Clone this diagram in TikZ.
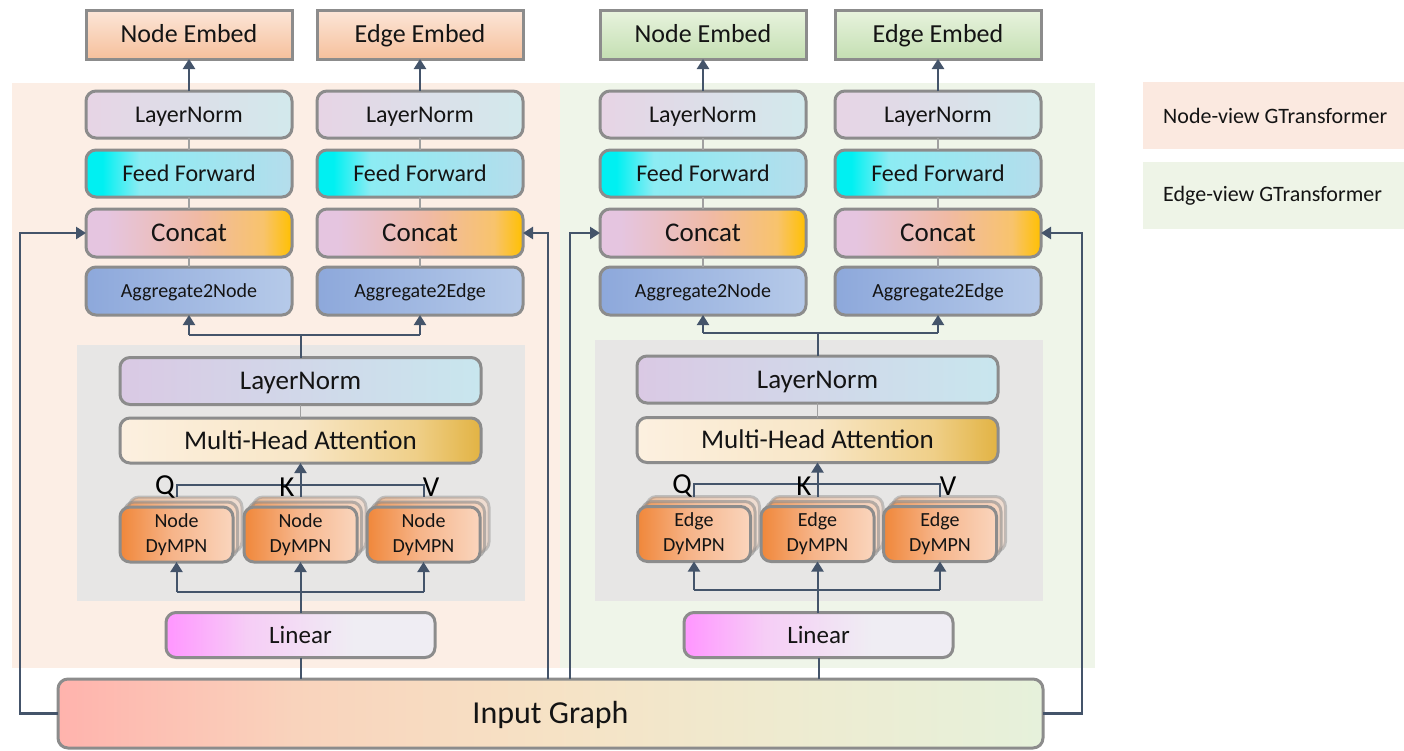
\documentclass[tikz,border=0pt]{standalone}
\usepackage{fontspec}
\setmainfont{Carlito}
\usetikzlibrary{arrows.meta,calc}
\definecolor{bordergray}{HTML}{8C8C8C}
\definecolor{conncol}{HTML}{44546A}
\definecolor{thingray}{HTML}{A0A0A0}
\definecolor{panelL}{HTML}{FCEEE5}
\definecolor{panelR}{HTML}{EFF5E9}
\definecolor{innergray}{HTML}{E7E6E5}
\definecolor{legL}{HTML}{FBE9E0}
\definecolor{legR}{HTML}{EEF4E7}
\definecolor{txt}{HTML}{141414}
\definecolor{ffA}{HTML}{00F0F2}
\definecolor{ffB}{HTML}{8CECF3}
\definecolor{ffC}{HTML}{B5DDEC}
\definecolor{ccA}{HTML}{E5C5E0}
\definecolor{ccB}{HTML}{F0BAA5}
\definecolor{ccC}{HTML}{F8C36C}
\definecolor{ccD}{HTML}{FFC000}
\definecolor{linA}{HTML}{FF99FF}
\definecolor{linB}{HTML}{F6CDF6}
\definecolor{linC}{HTML}{EFEDF3}
\definecolor{igA}{HTML}{FFB3AD}
\definecolor{igB}{HTML}{F9D3BC}
\definecolor{igC}{HTML}{F6E2C5}
\definecolor{igD}{HTML}{EEEBD0}
\definecolor{igE}{HTML}{E6F1DB}
\definecolor{mhA}{HTML}{FCF0E0}
\definecolor{mhB}{HTML}{F8E6C6}
\definecolor{mhC}{HTML}{EFCF88}
\definecolor{mhD}{HTML}{E2B343}
\definecolor{dyA}{HTML}{F0873A}
\definecolor{dyB}{HTML}{F6B489}
\definecolor{dyC}{HTML}{FAD5BD}
\pgfdeclarehorizontalshading{ffshade}{100bp}{color(0bp)=(ffA); color(29bp)=(ffA); color(38bp)=(ffB); color(75bp)=(ffC); color(100bp)=(ffC)}
\pgfdeclarehorizontalshading{ccshade}{100bp}{color(0bp)=(ccA); color(30bp)=(ccA); color(52bp)=(ccB); color(68bp)=(ccC); color(75bp)=(ccD); color(100bp)=(ccD)}
\pgfdeclarehorizontalshading{linshade}{100bp}{color(0bp)=(linA); color(26bp)=(linA); color(40bp)=(linB); color(60bp)=(linC); color(100bp)=(linC)}
\pgfdeclarehorizontalshading{igshade}{100bp}{color(0bp)=(igA); color(25bp)=(igA); color(37bp)=(igB); color(50bp)=(igC); color(62bp)=(igD); color(75bp)=(igE); color(100bp)=(igE)}
\pgfdeclarehorizontalshading{mhshade}{100bp}{color(0bp)=(mhA); color(25bp)=(mhA); color(50bp)=(mhB); color(66bp)=(mhC); color(75bp)=(mhD); color(100bp)=(mhD)}
\pgfdeclarehorizontalshading{dyshade}{100bp}{color(0bp)=(dyA); color(25bp)=(dyA); color(48bp)=(dyB); color(75bp)=(dyC); color(100bp)=(dyC)}
\newcommand\fsz[1]{\fontsize{#1}{#1}\selectfont}
\newcommand\dystack[4]{%
  \node[dybox,opacity=.45] (#1b2) at (#2+9,#3-10) {};
  \node[dybox,opacity=.6] (#1b1) at (#2+4.5,#3-5) {};
  \node[dybox] (#1) at (#2,#3) {#4\\DyMPN};
}
\tikzset{
  base/.style={draw=bordergray, line width=3pt, inner sep=0pt, outer sep=0pt, text=txt},
  rbox/.style={base, rounded corners=10pt},
  tx/.style 2 args={text height=#1, text depth=#2},
  embedO/.style={base, tx={22.4pt}{5.7pt}, top color={rgb,255:red,252;green,230;blue,216}, bottom color={rgb,255:red,246;green,192;blue,156}, minimum width=206pt, minimum height=49pt, font=\fsz{26}},
  embedG/.style={base, tx={22.4pt}{5.7pt}, top color={rgb,255:red,232;green,243;blue,222}, bottom color={rgb,255:red,196;green,223;blue,178}, minimum width=206pt, minimum height=49pt, font=\fsz{26}},
  lnS/.style={rbox, tx={20.6pt}{5.3pt}, left color={rgb,255:red,231;green,212;blue,229}, right color={rgb,255:red,210;green,233;blue,236}, minimum width=206pt, minimum height=47pt, font=\fsz{24}},
  ffbox/.style={rbox, tx={20.6pt}{5.3pt}, shade, shading=ffshade, minimum width=206pt, minimum height=47pt, font=\fsz{24}},
  ccbox/.style={rbox, tx={23.2pt}{5.9pt}, shade, shading=ccshade, minimum width=206pt, minimum height=48pt, font=\fsz{27}},
  aggbox/.style={rbox, tx={17.2pt}{4.4pt}, left color={rgb,255:red,141;green,168;blue,219}, right color={rgb,255:red,182;green,202;blue,233}, minimum width=206pt, minimum height=48pt, font=\fsz{20}},
  lnB/.style={rbox, tx={23.2pt}{5.9pt}, left color={rgb,255:red,218;green,201;blue,228}, right color={rgb,255:red,200;green,230;blue,238}, minimum width=361pt, minimum height=47pt, font=\fsz{27}},
  mhbox/.style={rbox, tx={23.2pt}{5.9pt}, shade, shading=mhshade, minimum width=361pt, minimum height=45pt, font=\fsz{27}},
  dybox/.style={rbox, shade, shading=dyshade, minimum width=113pt, minimum height=55pt, font=\fontsize{20}{25}\selectfont, align=center},
  linbox/.style={rbox, tx={21.5pt}{5.5pt}, shade, shading=linshade, minimum width=269pt, minimum height=45pt, font=\fsz{25}},
  igbox/.style={rbox, tx={27.5pt}{7pt}, shade, shading=igshade, minimum width=985pt, minimum height=69pt, font=\fsz{32}},
  qkv/.style={inner sep=0pt, text=black, font=\fsz{29}},
  legtext/.style={inner sep=0pt, anchor=west, text=txt, font=\fsz{22}},
  conn/.style={draw=conncol, line width=2.6pt},
  arr/.style={conn, -{Triangle[length=10pt,width=12pt]}},
  thinconn/.style={draw=conncol, line width=2pt},
  thinarr/.style={thinconn, -{Triangle[length=10pt,width=12pt]}},
  link/.style={draw=thingray, line width=1.6pt},
}
\begin{document}
\begin{tikzpicture}[x=1pt,y=-1pt]
\useasboundingbox (0,0) rectangle (1404,750);
% panels
\fill[panelL] (12,83) rectangle (560,668);
\fill[panelR] (560,83) rectangle (1095,668);
\fill[innergray] (77,345) rectangle (525,601);
\fill[innergray] (595,340) rectangle (1043,601);
% legend
\fill[legL] (1143,82) rectangle (1404,149);
\fill[legR] (1143,162) rectangle (1404,229);
\node[legtext] (legN) at (1163,115.5) {Node-view GTransformer};
\node[legtext] (legE) at (1163,195.5) {Edge-view GTransformer};
% coordinates for connector routing
\coordinate (jL) at (0,335);
\coordinate (jR) at (0,333);
\coordinate (qL) at (0,485);
\coordinate (qR) at (0,484);
\coordinate (fL) at (0,592);
\coordinate (fR) at (0,590);
\coordinate (xLL) at (20,0);
\coordinate (xLR) at (548,0);
\coordinate (xRL) at (570,0);
\coordinate (xRR) at (1082,0);
% ---------- left panel ----------
\node[embedO] (eA) at (189,34.5) {Node Embed};
\node[embedO] (eB) at (420,34.5) {Edge Embed};
\node[lnS] (lA) at (189,114.5) {LayerNorm};
\node[lnS] (lB) at (420,114.5) {LayerNorm};
\node[ffbox] (fA) at (189,173.5) {Feed Forward};
\node[ffbox] (fB) at (420,173.5) {Feed Forward};
\node[ccbox] (cA) at (189,233) {Concat};
\node[ccbox] (cB) at (420,233) {Concat};
\node[aggbox] (aA) at (189,291) {Aggregate2Node};
\node[aggbox] (aB) at (420,291) {Aggregate2Edge};
\node[lnB] (blA) at (300.5,381) {LayerNorm};
\node[mhbox] (mA) at (300.5,440.5) {Multi-Head Attention};
\dystack{nq}{176.5}{534.5}{Node}
\dystack{nk}{300.5}{534.5}{Node}
\dystack{nv}{423.5}{534.5}{Node}
\node[linbox] (linA) at (300.5,635) {Linear};
% ---------- right panel ----------
\node[embedG] (eC) at (703,34.5) {Node Embed};
\node[embedG] (eD) at (938,34.5) {Edge Embed};
\node[lnS] (lC) at (703,114.5) {LayerNorm};
\node[lnS] (lD) at (938,114.5) {LayerNorm};
\node[ffbox] (fC) at (703,173.5) {Feed Forward};
\node[ffbox] (fD) at (938,173.5) {Feed Forward};
\node[ccbox] (cC) at (703,233) {Concat};
\node[ccbox] (cD) at (938,233) {Concat};
\node[aggbox] (aC) at (703,291) {Aggregate2Node};
\node[aggbox] (aD) at (938,291) {Aggregate2Edge};
\node[lnB] (blB) at (817.5,379.5) {LayerNorm};
\node[mhbox] (mB) at (817.5,440) {Multi-Head Attention};
\dystack{eq}{694}{534}{Edge}
\dystack{ek}{817.5}{534}{Edge}
\dystack{ev}{940}{534}{Edge}
\node[linbox] (linB) at (818.5,635) {Linear};
% input graph
\node[igbox] (ig) at (550.5,713.5) {Input Graph};
% ---------- gray links ----------
\foreach \s in {A,B,C,D}{
  \draw[link] (l\s.south) -- (f\s.north);
  \draw[link] (f\s.south) -- (c\s.north);
  \draw[link] (c\s.south) -- (a\s.north);
}
\draw[link] (blA.south) -- (mA.north);
\draw[link] (blB.south) -- (mB.north);
% ---------- arrows to embeds ----------
\foreach \s in {A,B,C,D}{
  \draw[arr] (l\s.north) -- (e\s.south);
}
% ---------- aggregate junctions ----------
\draw[thinconn] (blA.north) -- (blA.north |- jL);
\draw[thinconn] (aA.south |- jL) -- (aB.south |- jL);
\draw[thinarr] (aA.south |- jL) -- (aA.south);
\draw[thinarr] (aB.south |- jL) -- (aB.south);
\draw[thinconn] (blB.north) -- (blB.north |- jR);
\draw[thinconn] (aC.south |- jR) -- (aD.south |- jR);
\draw[thinarr] (aC.south |- jR) -- (aC.south);
\draw[thinarr] (aD.south |- jR) -- (aD.south);
% ---------- Q K V ----------
\draw[thinconn] (nq.north |- nqb2.north) -- (nq.north |- qL) -- (nv.north |- qL) -- (nv.north |- nvb2.north);
\draw[thinarr] (nk.north |- nkb2.north) -- (nk.north |- mA.south);
\draw[thinconn] (eq.north |- eqb2.north) -- (eq.north |- qR) -- (ev.north |- qR) -- (ev.north |- evb2.north);
\draw[thinarr] (ek.north |- ekb2.north) -- (ek.north |- mB.south);
\node[qkv] (qlA) at (165,487) {Q};
\node[qkv] (klA) at (287,487) {K};
\node[qkv] (vlA) at (431,487) {V};
\node[qkv] (qlB) at (682,486) {Q};
\node[qkv] (klB) at (804,486) {K};
\node[qkv] (vlB) at (948,486) {V};
% ---------- fan from Linear ----------
\draw[thinconn] (nq.south |- fL) -- (nv.south |- fL);
\draw[thinarr] (nq.south |- fL) -- (nq.south);
\draw[thinarr] (nv.south |- fL) -- (nv.south);
\draw[thinarr] (nk.south |- linA.north) -- (nk.south);
\draw[thinconn] (eq.south |- fR) -- (ev.south |- fR);
\draw[thinarr] (eq.south |- fR) -- (eq.south);
\draw[thinarr] (ev.south |- fR) -- (ev.south);
\draw[thinarr] (ek.south |- linB.north) -- (ek.south);
% ---------- Linear to input graph ----------
\draw[thinconn] (linA.south) -- (linA.south |- ig.north);
\draw[thinconn] (linB.south) -- (linB.south |- ig.north);
% ---------- long side connectors ----------
\draw[arr] (ig.west) -| (xLL |- cA.west) -- (cA.west);
\draw[arr] (xLR |- ig.north) -- (xLR |- cB.east) -- (cB.east);
\draw[arr] (xRL |- ig.north) -- (xRL |- cC.west) -- (cC.west);
\draw[arr] (ig.east) -| (xRR |- cD.east) -- (cD.east);
\end{tikzpicture}
\end{document}
